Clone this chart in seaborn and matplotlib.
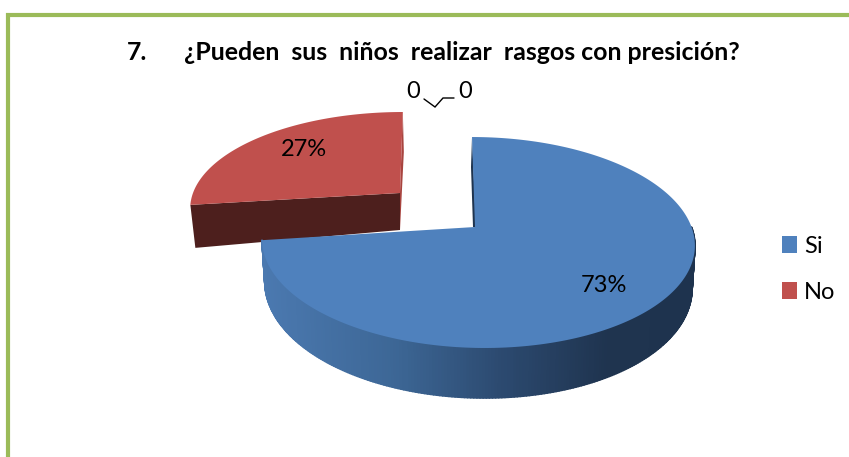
import numpy as np
import seaborn as sns
import matplotlib
matplotlib.use("Agg")
import matplotlib.pyplot as plt
from matplotlib.collections import PolyCollection
from matplotlib.colors import LinearSegmentedColormap
from matplotlib.patches import Patch, Polygon

categories = ["Si", "No", "", ""]
values = [73, 27, 0, 0]
pct_labels = ["73%", "27%"]
zero_labels = ["0", "0"]
title_num = "7."
title = "¿Pueden  sus  niños  realizar  rasgos con presición?"

sns.set_theme(style="white")
plt.rcParams['font.family'] = ['Lato', 'DejaVu Sans']

blue, red = "#4f81bd", "#c0504d"
green = "#9bbb59"
side_cmap = LinearSegmentedColormap.from_list(
    "side", [(0, "#4b79b0"), (0.3, "#3d6796"), (0.55, "#2c4a70"), (0.8, "#1f344f"), (1, "#1e334e")])

fig = plt.figure(figsize=(8.49, 4.57), dpi=100)
ax = fig.add_axes([0, 0, 1, 1])
wedges, _ = ax.pie(values, startangle=90, counterclock=False, frame=True)
angles = [(w.theta1, w.theta2) for w in wedges]
for w in wedges:
    w.remove()
ax.set_xlim(0, 849)
ax.set_ylim(457, 0)
ax.axis("off")


def project(theta, r, cx, cy, bx, ay, tilt=0.147, shear=0.0):
    # flat circle seen at an angle, near edge comes out bigger
    x = r * np.cos(np.radians(theta))
    y = r * np.sin(np.radians(theta))
    k = 1 + tilt * y
    return cx + bx * x / k + shear * ay * y / k, cy - ay * y / k


# red slice, pulled out
t1, t2 = angles[1]
th = np.linspace(t1, t2, 120)
rp = dict(cx=400, cy=193, bx=207, ay=92.9, shear=0.035)
px, py = project(th, 1, **rp)
ax0, ay0 = project(0, 0, **rp)
# th runs from 90 (top) to 187 (left), cut face goes from left end to apex
ax.add_patch(Polygon([(ax0, ay0), (px[0], py[0]), (px[0] + 1, py[0] + 40), (ax0, ay0 + 37)],
                     fc="#a8443f", ec="none", zorder=1))
ax.add_patch(Polygon([(px[-1], py[-1]), (ax0, ay0), (ax0, ay0 + 37), (px[-1] + 5, py[-1] + 43)],
                     fc="#4d1f1d", ec="none", zorder=2))
ax.add_patch(Polygon(np.r_[[[ax0, ay0]], np.c_[px, py]], fc=red, ec="none", zorder=3))

# blue slice
t1, t2 = angles[0]
bp = dict(cx=477.5, cy=227, bx=214, ay=103.2, shear=-0.061)
th = np.linspace(t1, t2, 500)
px, py = project(th, 1, **bp)
ax0, ay0 = project(0, 0, **bp)
ax0 -= 2.5

# round side, only the front half shows
front = np.linspace(t1, 0, 240)
fx, fy = project(front, 1, **bp)
depth = 41 + 9 * np.abs(np.sin(np.radians(front)))
lx = bp["cx"] + (fx - bp["cx"]) * 0.987
ly = fy + depth
quads = [[(fx[i], fy[i]), (fx[i + 1], fy[i + 1]), (lx[i + 1], ly[i + 1]), (lx[i], ly[i])]
         for i in range(len(front) - 1)]
cols = [side_cmap((q[0][0] - 262) / (695 - 262)) for q in quads]
ax.add_collection(PolyCollection(quads, facecolors=cols, edgecolors=cols, linewidths=1.2, zorder=4))

# inner wall next to the vertical cut
tx, ty = project(t2, 1, **bp)
ax.add_patch(Polygon([(tx, ty), (ax0 + 1, ay0), (ax0 - 2, ay0), (tx - 1, ty + 30)],
                     fc="#1f344f", ec="none", zorder=4))
ax.add_patch(Polygon(np.r_[[[ax0, ay0]], np.c_[px, py]], fc=blue, ec="none", zorder=5))

ax.text(604, 285, pct_labels[0], ha="center", va="center", fontsize=17, color="black", zorder=6)
ax.text(304, 149, pct_labels[1], ha="center", va="center", fontsize=17, color="black", zorder=6)

# zero slices, labels with leader line
ax.text(413, 91, zero_labels[0], ha="center", va="center", fontsize=17, color="black")
ax.text(465, 91, zero_labels[1], ha="center", va="center", fontsize=17, color="black")
ax.plot([424, 435, 443, 454], [99, 107, 98, 98], color="black", lw=1, solid_joinstyle="miter")

ax.text(127, 53, title_num, ha="left", va="center", fontsize=17.9, fontweight="bold", color="black")
ax.text(184, 53, title, ha="left", va="center", fontsize=17.9, fontweight="bold", color="black")

handles = [Patch(fc=blue, ec="none"), Patch(fc=red, ec="none")]
ax.legend(handles, categories[:2], loc="upper left", bbox_to_anchor=(782, 236),
          bbox_transform=ax.transData, frameon=False, fontsize=17, handlelength=0.64,
          handleheight=0.7, handletextpad=0.3, labelspacing=1.04, borderpad=0, borderaxespad=0,
          labelcolor="black")

# green frame of the page
ax.plot([8, 8, 849], [457, 14.5, 14.5], color=green, lw=3, solid_joinstyle="miter")

fig.savefig("out.png", dpi=100)
